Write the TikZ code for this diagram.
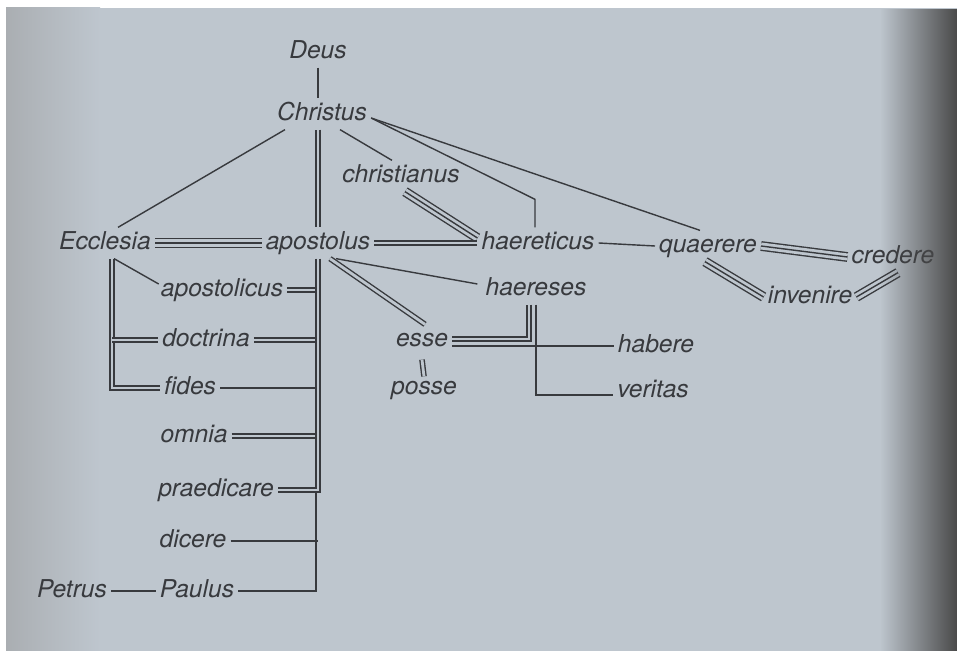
\documentclass[tikz,border=0pt]{standalone}
\usepackage{fontspec}
\setmainfont{TeX Gyre Heros}
\usetikzlibrary{calc,positioning,fadings}
\definecolor{pagebg}{RGB}{190,198,206}
\definecolor{pageleft}{RGB}{170,174,178}
\definecolor{pagedk}{RGB}{74,74,74}
\definecolor{ink}{RGB}{56,58,62}
\tikzfading[name=darken right, left color=transparent!100, right color=transparent!0]
\tikzset{
    word/.style={
        font=\fontsize{14}{16}\selectfont\itshape,
        text=ink,
        inner sep=2pt,
        text height=10pt,
        text depth=3pt
    },
    dbl/.style={
        double=pagebg,
        double distance=1.6pt
    },
    trpl/.style={
        preaction={draw, double=pagebg, double distance=4pt}
    }
}

\begin{document}
\begin{tikzpicture}[x=0.02cm, y=-0.02cm, line width=0.8pt, color=ink]
    \useasboundingbox (0,0) rectangle (957,651);
    \fill[white] (0,0) rectangle (957,651);
    \fill[pagebg] (6,8) rectangle (957,651);
    \shade[left color=pageleft, right color=pagebg] (6,8) rectangle (100,651);

    \node (deus) at (318, 52) [word] {Deus};
    \node (chr) at (322, 114) [word] {Christus};
    \node (chrn) at (401, 176) [word] {christianus};
    \node (eccl) at (105, 243) [word] {Ecclesia};
    \node (apos) at (318, 243) [word] {apostolus};
    \node (haer) at (538, 243) [word] {haereticus};
    \node (quae) at (708, 246) [word] {quaerere};
    \node (cred) at (893, 257) [word] {credere};
    \node (inv) at (810, 297) [word] {invenire};
    \node (apol) at (222, 290) [word] {apostolicus};
    \node (hrs) at (536, 289) [word] {haereses};
    \node (doct) at (206, 340) [word] {doctrina};
    \node (esse) at (422, 340) [word] {esse};
    \node (hab) at (656, 346) [word] {habere};
    \node (fid) at (190, 388) [word] {fides};
    \node (pos) at (424, 388) [word] {posse};
    \node (ver) at (653, 391) [word] {veritas};
    \node (omn) at (194, 436) [word] {omnia};
    \node (prae) at (216, 490) [word] {praedicare};
    \node (dic) at (193, 541) [word] {dicere};
    \node (petr) at (72, 591) [word] {Petrus};
    \node (paul) at (197, 591) [word] {Paulus};

    \draw (deus.south) -- (deus.south |- chr.north);
    \draw ($(chr.south)+(-37,0)$) -- ($(eccl.north)+(13,0)$);
    \draw [dbl] (apos.north |- chr.south) -- (apos.north);
    \draw ($(chr.south)+(18,0)$) -- ($(chrn.north)+(-9,0)$);
    \draw ($(chr.east)+(0,4)$) -- ($(haer.north)+(-3,-28)$) -- ($(haer.north)+(-3,0)$);
    \draw ($(chr.east)+(0,4)$) -- ($(quae.north)+(-8,0)$);
    \draw [trpl] ($(chrn.south)+(4,0)$) -- ($(haer.west)+(0,-5)$);

    \draw [trpl] (eccl.east) -- (apos.west);
    \draw [dbl] (apos.east) -- (haer.west);
    \draw (haer.east) -- (quae.west);
    \draw [trpl] (quae.east) -- (cred.west);
    \draw [trpl] ($(quae.south)+(-3,0)$) -- (inv.west);
    \draw [trpl] (inv.east) -- ($(cred.south)+(5,0)$);

    \draw ($(eccl.south)+(9,0)$) -- ($(apol.west)+(2,-6)$);
    \draw [dbl] ($(eccl.south)+(7,0)$) |- (fid.west);
    \draw [dbl] (doct.west) -- ($(doct.west -| eccl.south)+(7,0)$);

    \draw [dbl] (apol.east) -- (apol.east -| apos.south);
    \draw [dbl] (doct.east) -- (doct.east -| apos.south);
    \draw (fid.east) -- (fid.east -| apos.south);
    \draw [dbl] (omn.east) -- (omn.east -| apos.south);
    \draw (dic.east) -- (dic.east -| apos.south);
    \draw ([xshift=-1.2pt]apos.south) |- (paul.east);
    \draw [dbl] (apos.south) |- (prae.east);
    \draw (petr) -- (paul);

    \draw ($(apos.south)+(18,0)$) -- ($(hrs.west)+(-4,-5)$);
    \draw [dbl] ($(apos.south)+(12,0)$) -- ($(esse.north)+(3,0)$);
    \draw [dbl] ($(hrs.south)+(-7,0)$) |- ($(esse.east)+(0,-1)$);
    \draw ($(esse.east)+(0,6)$) -- (hab.west);
    \draw (hrs.south) |- ($(ver.west)+(0,4)$);
    \draw [dbl] ($(esse.south)+(0,4)$) -- ($(pos.north)+(0,4)$);

    \fill[pagedk, path fading=darken right] (880,8) rectangle (957,651);
\end{tikzpicture}
\end{document}
